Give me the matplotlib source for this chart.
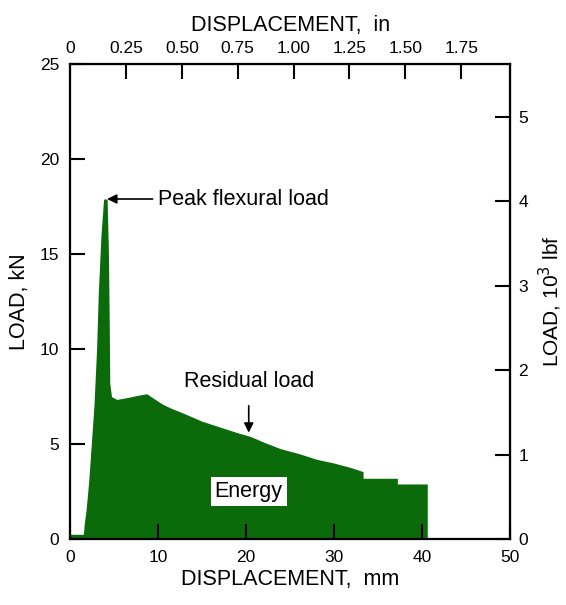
import matplotlib.pyplot as plt
import numpy as np

plt.rcParams["font.family"] = ["Liberation Sans", "DejaVu Sans"]

# load-displacement record (mm, kN)
disp_mm = [0.0, 1.5, 1.6, 1.8, 2.1, 2.4, 2.7, 3.0, 3.2, 3.5, 3.8,
           4.2, 4.35, 4.45, 4.5, 4.7, 5.3, 6.5, 7.5, 8.7, 9.5,
           10.5, 11.4, 13.0, 15.0, 17.0, 19.0, 20.5, 22.0, 23.9, 26.0,
           28.0, 30.0, 32.0, 33.3, 33.3, 37.2, 37.2, 40.6, 40.6]
load_kn = [0.25, 0.25, 0.8, 1.5, 3.0, 5.0, 7.0, 10.0, 13.0, 16.0, 17.9,
           17.9, 15.0, 11.0, 8.2, 7.5, 7.35, 7.45, 7.55, 7.65, 7.4,
           7.1, 6.9, 6.6, 6.2, 5.9, 5.6, 5.4, 5.1, 4.76, 4.5,
           4.2, 4.0, 3.75, 3.55, 3.2, 3.2, 2.9, 2.9, 0.0]

in_ticks = [0, 0.25, 0.50, 0.75, 1.00, 1.25, 1.50, 1.75]
in_labels = ["0", "0.25", "0.50", "0.75", "1.00", "1.25", "1.50", "1.75"]
kip_ticks = [0, 1, 2, 3, 4, 5]

MM_PER_IN = 25.4
KN_PER_KIP = 4.448
GREEN = "#0b6b0b"
LABEL_FS = 15.5
TICK_FS = 12.5

fig = plt.figure(figsize=(5.66, 6.05), dpi=100)
ax = fig.add_axes([0.124, 0.109, 0.777, 0.785])
ax.set_axisbelow(False)

ax.fill_between(disp_mm, load_kn, 0, color=GREEN, lw=0, zorder=0.5)

ax.set_xlim(0, 50)
ax.set_ylim(0, 25)
ax.set_xticks(np.arange(0, 51, 10))
ax.set_yticks(np.arange(0, 26, 5))
ax.tick_params(direction="in", length=11, width=1.5, labelsize=TICK_FS, pad=8)
for s in ax.spines.values():
    s.set_linewidth(1.6)
ax.set_xlabel("DISPLACEMENT,  mm", fontsize=LABEL_FS, labelpad=3)
ax.set_ylabel("LOAD, kN", fontsize=LABEL_FS, labelpad=7)

top = ax.secondary_xaxis("top", functions=(lambda x: x / MM_PER_IN, lambda x: x * MM_PER_IN))
top.set_xticks(in_ticks)
top.set_xticklabels(in_labels)
top.tick_params(direction="in", length=11, width=1.5, labelsize=TICK_FS, pad=6)
top.set_xlabel("DISPLACEMENT,  in", fontsize=LABEL_FS, labelpad=7)

right = ax.secondary_yaxis("right", functions=(lambda y: y / KN_PER_KIP, lambda y: y * KN_PER_KIP))
right.set_yticks(kip_ticks)
right.tick_params(direction="in", length=11, width=1.5, labelsize=TICK_FS, pad=6)
right.set_ylabel("LOAD, 10$^3$ lbf", fontsize=LABEL_FS - 0.5, labelpad=6)

ax.annotate("Peak flexural load", xy=(4.2, 17.9), xytext=(10.0, 17.9),
            fontsize=LABEL_FS, va="center", ha="left",
            arrowprops=dict(arrowstyle="-|>", color="black", lw=1.2,
                            mutation_scale=14, shrinkA=2, shrinkB=0))
ax.annotate("Residual load", xy=(20.3, 5.6), xytext=(20.3, 8.3),
            fontsize=LABEL_FS, va="center", ha="center",
            arrowprops=dict(arrowstyle="-|>", color="black", lw=1.2,
                            mutation_scale=14, shrinkA=8, shrinkB=0))
ax.text(20.3, 2.5, "Energy", fontsize=LABEL_FS, ha="center", va="center",
        bbox=dict(facecolor="white", edgecolor="none", pad=3))

fig.savefig("out.png", dpi=100)
